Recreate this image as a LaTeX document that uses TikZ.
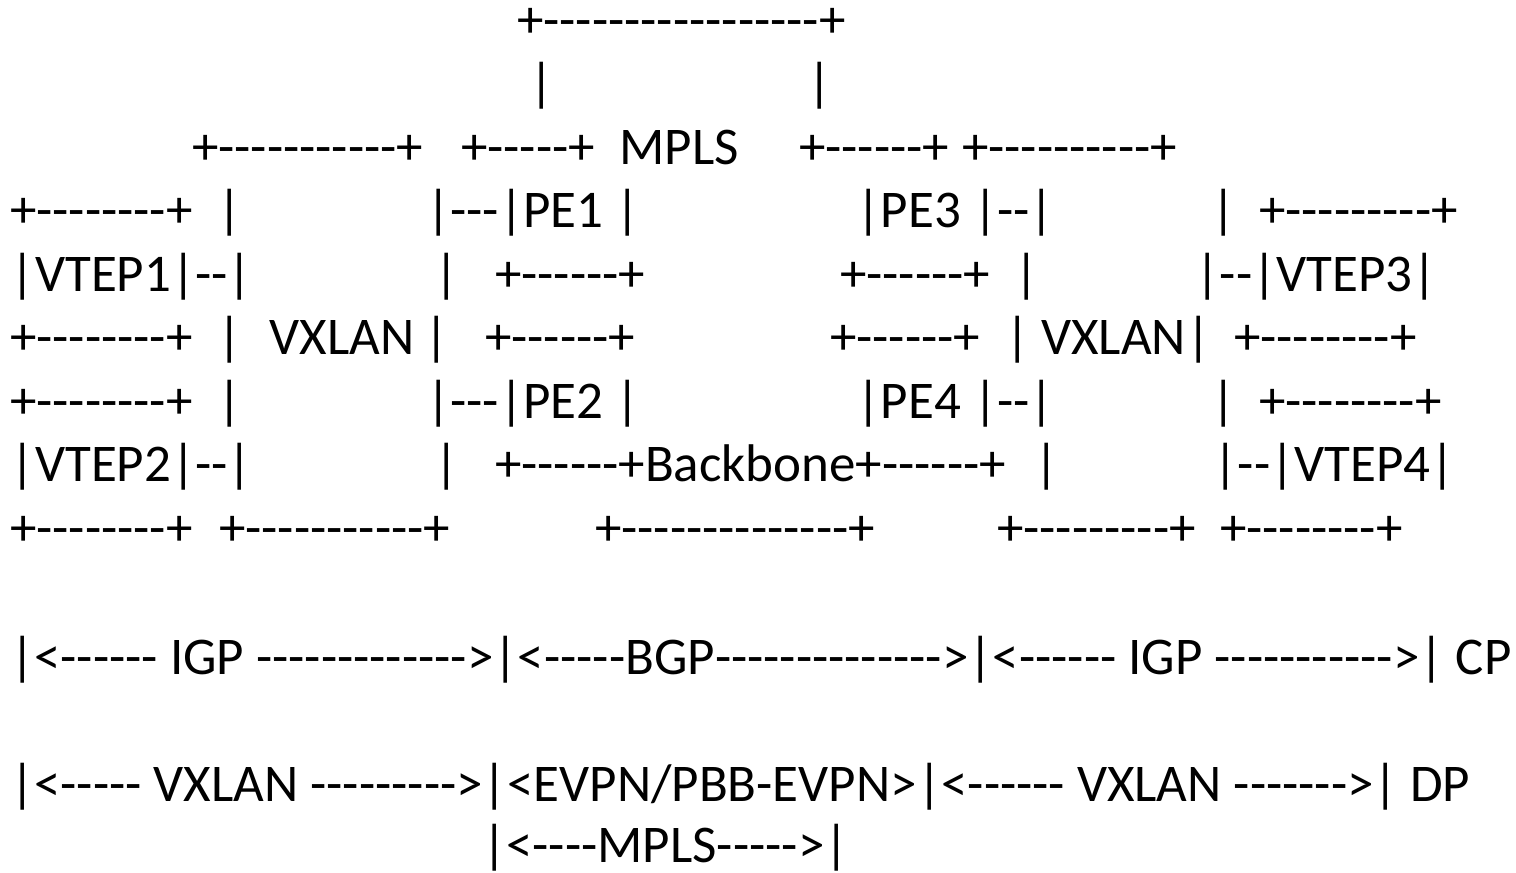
\documentclass[tikz,border=0pt]{standalone}
\usepackage{fontspec}
\newfontfamily\asc{Carlito}[Kerning=Off]
\begin{document}
\begin{tikzpicture}[x=1pt,y=-1pt,
  txt/.style={anchor=base west,inner sep=0pt,outer sep=0pt,font=\asc\fontsize{53pt}{60pt}\selectfont},
  vbar/.style={anchor=base,inner sep=0pt,outer sep=0pt,font=\asc\fontsize{53pt}{60pt}\selectfont}]
\fill[white] (0,0) rectangle (1516,873);
\useasboundingbox (0,0) rectangle (1516,873);
% row 1
\node[txt] (r1a) at (517,37) {+-----------------+};
% row 2
\node[vbar] (r2a) at (542,100.5) {|};
\node[vbar] (r2b) at (820,100.5) {|};
% row 3
\node[txt] (r3a) at (192,164) {+-----------+};
\node[txt] (r3b) at (461,164) {+-----+};
\node[txt] (r3c) at (619.5,164) {MPLS};
\node[txt] (r3d) at (799,164) {+------+};
\node[txt] (r3e) at (962,164) {+----------+};
% row 4
\node[txt] (r4a) at (10,227.5) {+--------+};
\node[vbar] (r4b) at (230,227.5) {|};
\node[txt] (r4c) at (426,227.5) {|---|PE1~|};
\node[txt] (r4d) at (856.5,227.5) {|PE3~|--|};
\node[vbar] (r4e) at (1224,227.5) {|};
\node[txt] (r4f) at (1259,227.5) {+---------+};
% row 5
\node[txt] (r5a) at (10.8,291) {|VTEP1|--|};
\node[vbar] (r5b) at (447,291) {|};
\node[txt] (r5c) at (495,291) {+------+};
\node[txt] (r5d) at (840,291) {+------+};
\node[vbar] (r5e) at (1027,291) {|};
\node[txt] (r5f) at (1195.5,291) {|--|VTEP3|};
% row 6
\node[txt] (r6a) at (10,354.5) {+--------+};
\node[vbar] (r6b) at (230,354.5) {|};
\node[txt] (r6c) at (269.5,354.5) {VXLAN};
\node[vbar] (r6d) at (437,354.5) {|};
\node[txt] (r6e) at (485,354.5) {+------+};
\node[txt] (r6f) at (830,354.5) {+------+};
\node[txt] (r6g) at (1005,354.5) {|~VXLAN|};
\node[txt] (r6h) at (1234,354.5) {+--------+};
% row 7
\node[txt] (r7a) at (10,418) {+--------+};
\node[vbar] (r7b) at (230,418) {|};
\node[txt] (r7c) at (426,418) {|---|PE2~|};
\node[txt] (r7d) at (856.5,418) {|PE4~|--|};
\node[vbar] (r7e) at (1224,418) {|};
\node[txt] (r7f) at (1259,418) {+--------+};
% row 8
\node[txt] (r8a) at (10.8,481.5) {|VTEP2|--|};
\node[vbar] (r8b) at (447,481.5) {|};
\node[txt] (r8c) at (495,481.5) {+------+Backbone+------+};
\node[vbar] (r8d) at (1047,481.5) {|};
\node[txt] (r8e) at (1213.5,481.5) {|--|VTEP4|};
% row 9
\node[txt] (r9a) at (10,545) {+--------+};
\node[txt] (r9b) at (219,545) {+-----------+};
\node[txt] (r9c) at (595,545) {+--------------+};
\node[txt] (r9d) at (997,545) {+---------+};
\node[txt] (r9e) at (1220,545) {+--------+};
% row 10
\node[txt] (cp) at (10,674) {|<------~IGP~------------->|<-----BGP-------------->|<------~IGP~----------->|~CP};
% row 11
\node[txt] (dpa) at (10,801) {|<-----~VXLAN~--------->|<EVPN/PBB-EVPN>};
\node[txt] (dpb) at (dpa.base east) {|<------~VXLAN~------->|~DP};
% row 12
\node[txt] (mp) at (482,862.5) {|<----MPLS----->|};
\end{tikzpicture}
\end{document}
